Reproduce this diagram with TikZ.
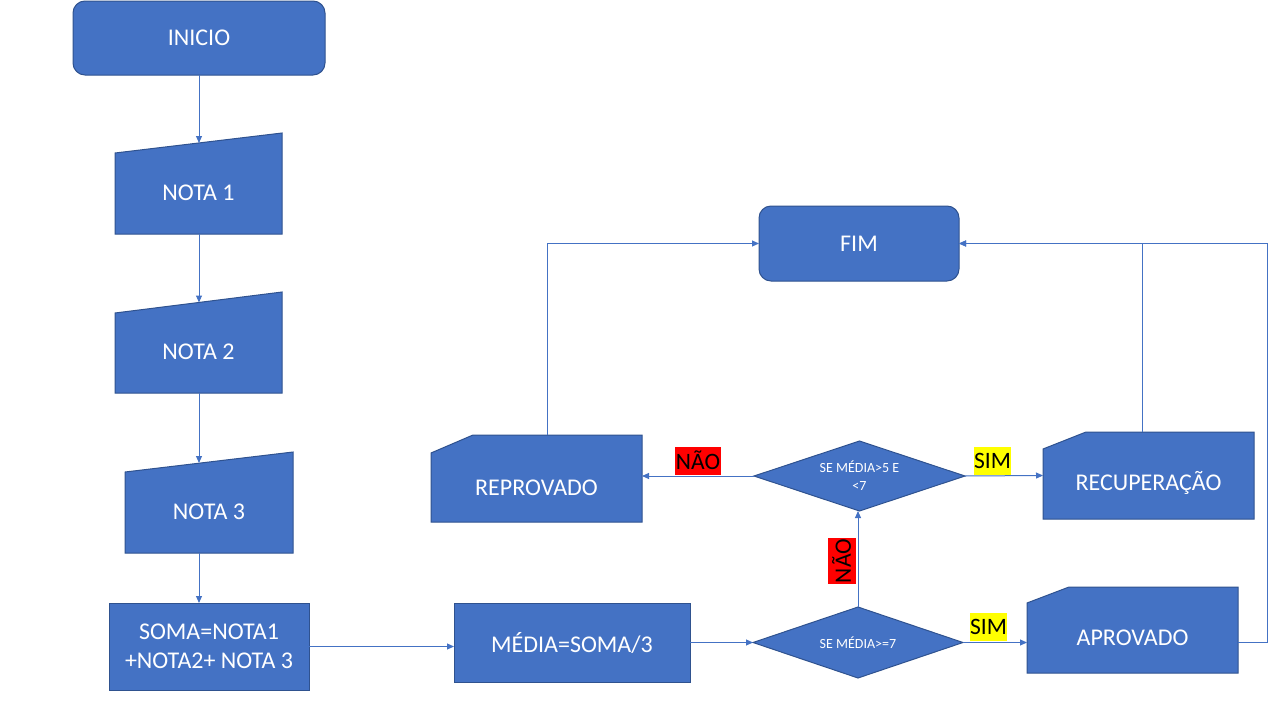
\documentclass[tikz,border=0pt]{standalone}
\usepackage{fontspec}
\setmainfont{Carlito}
\usetikzlibrary{arrows.meta,shapes.geometric,backgrounds,calc}
\definecolor{obl}{HTML}{4472C4}
\definecolor{obd}{HTML}{2F528F}
\definecolor{hlred}{HTML}{FF0000}
\definecolor{hlyel}{HTML}{FFFF00}
\begin{document}
\begin{tikzpicture}[x=1pt,y=-1pt,
  shp/.style={fill=obl,draw=obd,line width=1pt},
  bigfont/.style={font=\fontsize{24}{28.5}\selectfont},
  term/.style={shp,rounded corners=12pt,inner sep=0pt,outer sep=0pt,text=white,bigfont},
  proc/.style={shp,inner sep=0pt,outer sep=0pt,text=white,bigfont,align=center},
  frame/.style={inner sep=0pt,outer sep=0pt},
  txt/.style={text=white,bigfont,align=center,inner sep=0pt},
  dec/.style={shp,diamond,inner sep=0pt,outer sep=0pt},
  dtxt/.style={text=white,font=\fontsize{14}{18}\selectfont,align=center,inner sep=0pt},
  conn/.style={draw=obl,line width=1pt,-{Triangle[length=7pt,width=6pt]}},
  hl/.style={text=black,font=\fontsize{23.5}{27}\selectfont,inner xsep=0.5pt,inner ysep=0pt,minimum height=28pt},
]
\useasboundingbox (0,0) rectangle (1280,720);

% terminals
\node[term,minimum width=252pt,minimum height=74pt] (inicio) at (199,38) {INICIO};
\node[term,minimum width=200pt,minimum height=75pt] (fim) at (859,243.5) {FIM};

% manual inputs
\node[frame,minimum width=167pt,minimum height=101pt,
  label={[txt,yshift=-9.5pt]center:NOTA 1}] (n1) at (198.5,183.5) {};
\node[frame,minimum width=167pt,minimum height=101pt,
  label={[txt,yshift=-9.5pt]center:NOTA 2}] (n2) at (198.5,342.5) {};
\node[frame,minimum width=168pt,minimum height=101pt,
  label={[txt,yshift=-9.5pt]center:NOTA 3}] (n3) at (209,502.5) {};

% processes
\node[proc,minimum width=200pt,minimum height=87pt] (soma) at (209,646.5) {SOMA=NOTA1\\+NOTA2+ NOTA 3};
\node[proc,minimum width=236pt,minimum height=79pt] (media) at (572,642.5) {MÉDIA=SOMA/3};

% decisions
\node[dec,minimum width=210pt,minimum height=71pt] (d1) at (858,642.5) {};
\node[dtxt] (d1t) at (d1) {SE MÉDIA>=7};
\node[dec,minimum width=211pt,minimum height=70pt] (d2) at (859.5,476) {};
\node[dtxt] (d2t) at (d2) {SE MÉDIA>5 E\\<7};

% cards
\node[frame,minimum width=211pt,minimum height=87pt,
  label={[txt,yshift=-9.5pt]center:REPROVADO}] (reprov) at (536.5,478.5) {};
\node[frame,minimum width=211pt,minimum height=87pt,
  label={[txt,yshift=-7.5pt]center:RECUPERAÇÃO}] (recup) at (1148.5,475.5) {};
\node[frame,minimum width=211pt,minimum height=86pt,
  label={[txt,yshift=-8pt]center:APROVADO}] (aprov) at (1132.5,630) {};

\begin{scope}[on background layer]
  \filldraw[shp] (n1.south west) -- ($(n1.north west)+(0,20)$) -- (n1.north east) -- (n1.south east) -- cycle;
  \filldraw[shp] (n2.south west) -- ($(n2.north west)+(0,21)$) -- (n2.north east) -- (n2.south east) -- cycle;
  \filldraw[shp] (n3.south west) -- ($(n3.north west)+(0,20)$) -- (n3.north east) -- (n3.south east) -- cycle;
  \filldraw[shp] (reprov.south west) -- ($(reprov.north west)+(0,18)$) -- ($(reprov.north west)+(42,0)$) -- (reprov.north east) -- (reprov.south east) -- cycle;
  \filldraw[shp] (recup.south west) -- ($(recup.north west)+(0,17)$) -- ($(recup.north west)+(43,0)$) -- (recup.north east) -- (recup.south east) -- cycle;
  \filldraw[shp] (aprov.south west) -- ($(aprov.north west)+(0,16)$) -- ($(aprov.north west)+(42,0)$) -- (aprov.north east) -- (aprov.south east) -- cycle;
\end{scope}

% connector end points on slanted tops
\coordinate (n1in) at (199,143);
\coordinate (n2in) at (199,302.5);
\coordinate (n3in) at (199,463);
\coordinate (rcorner) at (1267,243.5);

% connectors
\draw[conn] (inicio.south) -- (n1in);
\draw[conn] (n1in |- n1.south) -- (n2in);
\draw[conn] (n2in |- n2.south) -- (n3in);
\draw[conn] (n3in |- n3.south) -- (n3in |- soma.north);
\draw[conn] (soma.east) -- (soma.east -| media.west);
\draw[conn] (media.east) -- (d1.west);
\draw[conn] (d1.north) -- (d1.north |- d2.south);
\draw[conn] (d1.east) -- (d1.east -| aprov.west);
\draw[conn] (d2.west) -- (d2.west -| reprov.east);
\draw[conn] (d2.east) -- (recup.west);
\draw[conn] ($(reprov.north west)+(116,0)$) |- (fim.west);
\draw[conn] ($(recup.north west)+(99,0)$) |- (fim.east);
\draw[conn] ($(aprov.east)+(0,12)$) -| (rcorner) -- (fim.east);

% labels
\node[hl,fill=hlred] (nao1) at (698,460.5) {NÃO};
\node[hl,fill=hlyel] (sim1) at (992.5,460.5) {SIM};
\node[hl,fill=hlyel] (sim2) at (988.5,626.5) {SIM};
\node[hl,fill=hlred,rotate=90] (nao2) at (841.5,561) {NÃO};
\end{tikzpicture}
\end{document}
